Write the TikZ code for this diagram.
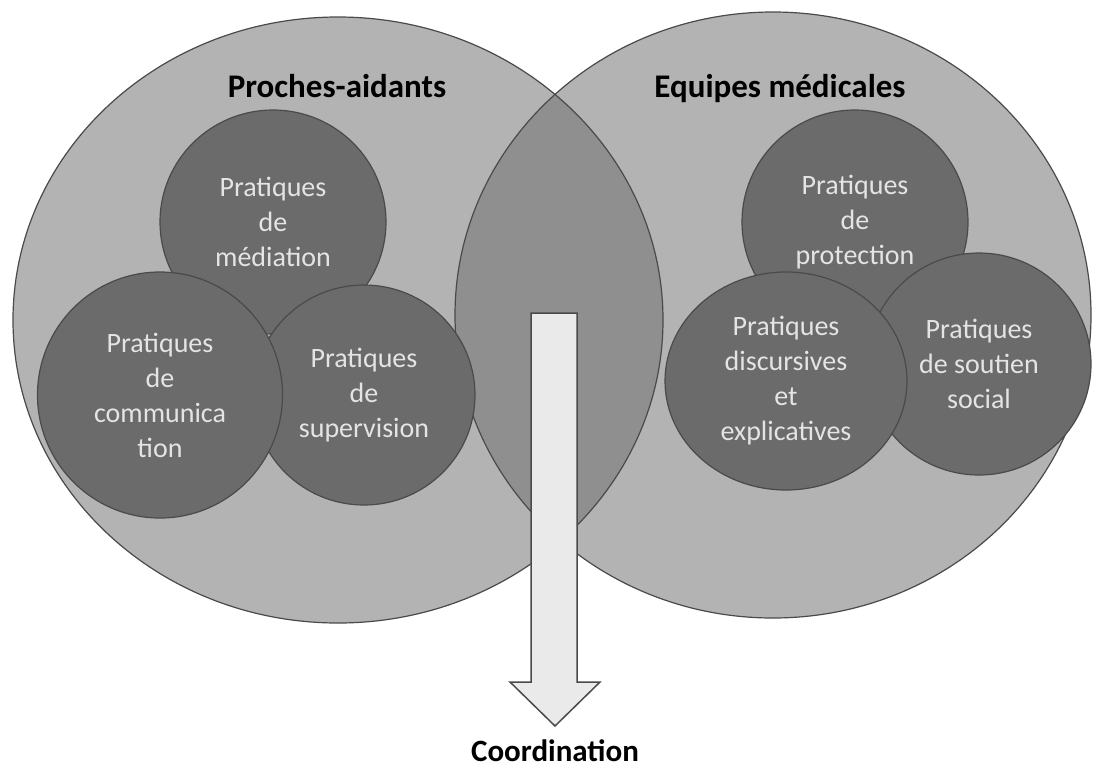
\documentclass[tikz,border=0pt]{standalone}
\usepackage{fontspec}
\setmainfont{Carlito}
\usetikzlibrary{shapes.geometric}
\definecolor{bigfill}{HTML}{B3B3B3}
\definecolor{lensfill}{HTML}{8F8F8F}
\definecolor{smallfill}{HTML}{6B6B6B}
\definecolor{edgecol}{HTML}{4A4A4A}
\definecolor{arrowfill}{HTML}{EAEAEA}
\definecolor{ltext}{HTML}{E4E4E4}
\begin{document}
\begin{tikzpicture}[x=1pt,y=-1pt,
  smallc/.style={ellipse, draw=edgecol, line width=1.2pt, fill=smallfill, text=ltext,
    align=center, inner sep=0pt, font=\fontsize{28}{35}\selectfont},
  titletext/.style={anchor=base, text=black, font=\fontsize{33}{40}\selectfont\bfseries},
  bigedge/.style={draw=edgecol, line width=1.2pt}]
\fill[white] (0,0) rectangle (1099,769);
\useasboundingbox (0,0) rectangle (1099,769);
% big sets
\fill[bigfill] (338,320) ellipse [x radius=325, y radius=303];
\fill[bigfill] (773,315) ellipse [x radius=318, y radius=303];
\begin{scope}
  \clip (338,320) ellipse [x radius=325, y radius=303];
  \fill[lensfill] (773,315) ellipse [x radius=318, y radius=303];
\end{scope}
\draw[bigedge] (338,320) ellipse [x radius=325, y radius=303];
\draw[bigedge] (773,315) ellipse [x radius=318, y radius=303];
% titles
\node[titletext] (pa) at (337,97) {Proches-aidants};
\node[titletext] (em) at (780,97) {Equipes médicales};
% left practices
\node[smallc, minimum width=226, minimum height=224] (med) at (273,222) {Pratiques\\de\\médiation};
\node[smallc, minimum width=222, minimum height=220] (sup) at (364,395) {Pratiques\\de\\supervision};
\node[smallc, minimum width=245, minimum height=246] (com) at (160,395) {Pratiques\\de\\communica\\tion};
% right practices
\node[smallc, minimum width=226, minimum height=224] (pro) at (855,222) {Pratiques\\de\\protection};
\node[smallc, minimum width=224, minimum height=222] (sou) at (979,364) {Pratiques\\de soutien\\social};
\node[smallc, minimum width=242, minimum height=218] (dis) at (786,381) {Pratiques\\discursives\\et\\explicatives};
% arrow
\draw[draw=edgecol, fill=arrowfill, line width=1.5pt, line join=miter]
  (531,313) -- (577,313) -- (577,682) -- (600,682) -- (555,726) -- (510,682) -- (531,682) -- cycle;
\node[titletext, font=\fontsize{31}{34}\selectfont\bfseries] (coord) at (555,761) {Coordination};
\end{tikzpicture}
\end{document}
